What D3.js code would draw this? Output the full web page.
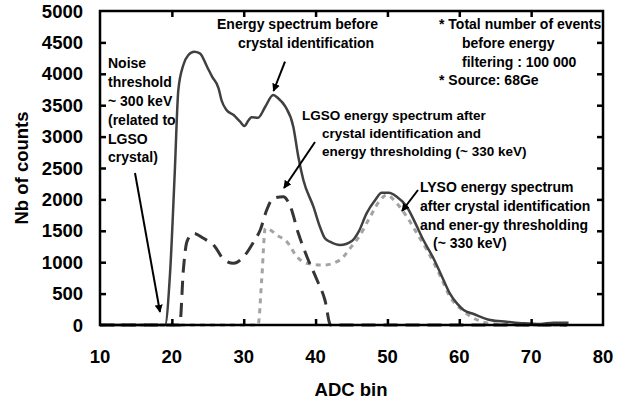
<!DOCTYPE html>
<html><head><meta charset="utf-8">
<script src="https://cdn.jsdelivr.net/npm/d3@7"></script>
<style>
body{margin:0;background:#fff;}
text{font-family:"Liberation Sans",Arial,sans-serif;font-weight:bold;fill:#000;}
</style></head>
<body><svg id="chart" width="624" height="400"></svg>
<script>
// ---- data ----
const xTicks = [10,20,30,40,50,60,70,80];
const yTicks = [0,500,1000,1500,2000,2500,3000,3500,4000,4500,5000];

const beforeBins   = [10,12,14,16,18,19.05,19.75,20.4,20.9,21.6,22.3,23.1,23.9,24.9,25.6,26.5,26.9,27.6,28.6,29.5,30.1,30.7,31.1,32.0,33.0,34.1,34.8,35.8,36.9,37.6,38.3,39.7,40.6,41.3,42.0,43.4,45.1,46.0,47.1,48.3,49.2,50.2,51.3,52.7,53.9,55.0,56.4,57.8,58.7,59.7,60.6,62.0,64.3,66.6,69,71.3,73.1,75.2];
const beforeCounts = [0,0,0,0,0,0,828,2420,3740,4140,4300,4352,4326,4113,3954,3769,3583,3424,3344,3237,3169,3264,3307,3301,3476,3662,3610,3476,3158,2680,2309,1884,1565,1380,1327,1274,1343,1486,1778,1990,2107,2107,2043,1884,1619,1353,1062,717,500,340,239,175,80,53,27,16,37,37];

const lgsoBins   = [10,15,20,21.1,21.6,22.1,23.0,24.4,26.0,27.2,28.6,30.0,31.4,32.3,33.2,34.1,35.5,36.5,37.6,38.8,40.2,41.3,42.1,45,50,55,60,65,70,75];
const lgsoCounts = [0,0,0,0,876,1327,1460,1380,1247,1046,982,1088,1327,1513,1831,2017,2043,1884,1460,1088,717,398,0,0,0,0,0,0,0,0];

const lysoBins   = [10,20,30,32,32.5,33,33.7,34.6,36.0,37.4,38.8,41.1,43.4,44.8,46.2,47.6,49,49.9,51.3,52.7,54.1,55.5,57.4,58.7,60.5,62.5,64,66,70,75];
const lysoCounts = [0,0,0,0,717,1540,1513,1433,1327,1088,982,955,1035,1221,1433,1725,1990,2070,1938,1725,1460,1194,769,451,230,80,30,10,0,0];

// ---- chart ----
const svg = d3.select("#chart");
const L = 100, R = 603, T = 11, B = 325;
const x = d3.scaleLinear().domain([10,80]).range([L,R]);
const y = d3.scaleLinear().domain([0,5000]).range([B,T]);

svg.append("defs").append("marker")
  .attr("id","arr").attr("viewBox","0 0 10 10").attr("refX",9).attr("refY",5)
  .attr("markerWidth",4).attr("markerHeight",4).attr("markerUnits","strokeWidth").attr("orient","auto")
  .append("path").attr("d","M0,0L10,5L0,10z").attr("fill","#000");

const line = d3.line().x(d=>x(d[0])).y(d=>y(d[1])).curve(d3.curveMonotoneX);
const zip = (a,b)=>a.map((v,i)=>[v,b[i]]);

svg.append("path").datum(zip(lysoBins,lysoCounts)).attr("d",line)
  .attr("fill","none").attr("stroke","#a3a3a3").attr("stroke-width",3).attr("stroke-dasharray","5,5");
svg.append("path").datum(zip(lgsoBins,lgsoCounts)).attr("d",line)
  .attr("fill","none").attr("stroke","#353535").attr("stroke-width",3).attr("stroke-dasharray","14,8");
svg.append("path").datum(zip(beforeBins,beforeCounts)).attr("d",line)
  .attr("fill","none").attr("stroke","#404040").attr("stroke-width",2.5);

// axes (inward ticks, box)
const tk = 6;
svg.append("g").attr("transform",`translate(0,${B})`)
  .call(d3.axisBottom(x).tickValues(xTicks.slice(1,-1)).tickSize(-tk).tickFormat(""))
  .call(g=>g.select(".domain").remove());
svg.append("g").attr("transform",`translate(0,${T})`)
  .call(d3.axisTop(x).tickValues(xTicks.slice(1,-1)).tickSize(-tk).tickFormat(""))
  .call(g=>g.select(".domain").remove());
svg.append("g").attr("transform",`translate(${L},0)`)
  .call(d3.axisLeft(y).tickValues(yTicks.slice(1,-1)).tickSize(-tk).tickFormat(""))
  .call(g=>g.select(".domain").remove());
svg.append("g").attr("transform",`translate(${R},0)`)
  .call(d3.axisRight(y).tickValues(yTicks.slice(1,-1)).tickSize(-tk).tickFormat(""))
  .call(g=>g.select(".domain").remove());
svg.selectAll(".tick line").attr("stroke","#000").attr("stroke-width",2.5);
svg.append("rect").attr("x",L).attr("y",T).attr("width",R-L).attr("height",B-T)
  .attr("fill","none").attr("stroke","#000").attr("stroke-width",2.5);

// tick labels
svg.append("g").selectAll("text").data(yTicks).join("text")
  .attr("x",83).attr("y",d=>y(d)+6.5).attr("text-anchor","end")
  .style("font-size","18.5px").text(d=>d);
svg.append("g").selectAll("text").data(xTicks).join("text")
  .attr("x",d=>x(d)).attr("y",363).attr("text-anchor","middle")
  .style("font-size","18.5px").text(d=>d);

svg.append("text").attr("x",351).attr("y",396).attr("text-anchor","middle")
  .style("font-size","18.5px").text("ADC bin");
svg.append("text").attr("transform","translate(28,168) rotate(-90)").attr("text-anchor","middle")
  .style("font-size","18.5px").text("Nb of counts");

// annotations
function lines(arr, size){
  arr.forEach(([t,xx,yy])=>svg.append("text").attr("x",xx).attr("y",yy+5).style("font-size",size+"px").text(t));
}
lines([["Noise",108,62.7],["threshold",108,81.7],["~ 300 keV",108,100.7],["(related to",108,120],["LGSO",108,139],["crystal)",108,157]],14);
lines([["Energy spectrum before",217,24],["crystal identification",238,42.7]],14);
lines([["* Total number of events",439,24],["before energy",462,43.3],["filtering : 100 000",462,62.3],["* Source: 68Ge",439,80]],14);
lines([["LGSO energy spectrum after",302,115],["crystal identification and",322,133.3],["energy thresholding (~ 330 keV)",322,150.7]],13.5);
lines([["LYSO energy spectrum",420,186.7],["after  crystal identification",420,206],["and ener-gy thresholding",420,225],["(~ 330 keV)",433,243.3]],14);

function arrow(x1,y1,x2,y2){
  svg.append("line").attr("x1",x1).attr("y1",y1).attr("x2",x2).attr("y2",y2)
    .attr("stroke","#000").attr("stroke-width",2).attr("marker-end","url(#arr)");
}
arrow(135,173,160,312);
arrow(285,61.7,273.5,91);
arrow(315,142,284,188);
arrow(418,190,402,211);
</script></body></html>
